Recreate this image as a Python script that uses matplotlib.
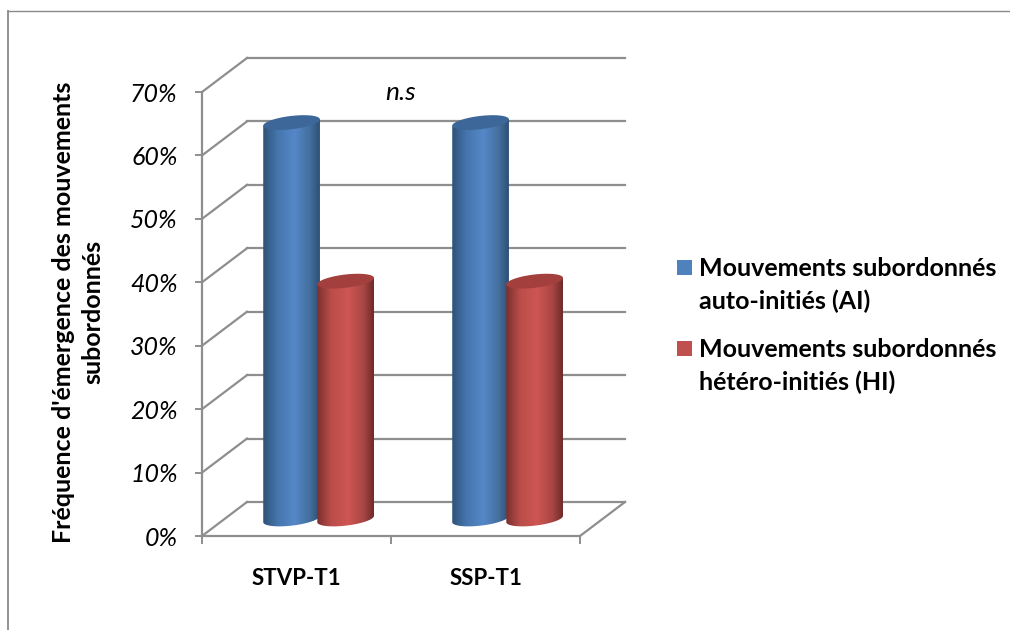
import numpy as np
import matplotlib
matplotlib.use("Agg")
import matplotlib.pyplot as plt
from matplotlib.colors import LinearSegmentedColormap
from matplotlib.lines import Line2D
from matplotlib.patches import Polygon, Rectangle

categories = ["STVP-T1", "SSP-T1"]
series_names = ["Mouvements subordonnés\nauto-initiés (AI)", "Mouvements subordonnés\nhétéro-initiés (HI)"]
auto_inities = [62.5, 62.5]
hetero_inities = [37.5, 37.5]
y_ticks = [0, 10, 20, 30, 40, 50, 60, 70]
y_label = "Fréquence d'émergence des mouvements\nsubordonnés"
note = "n.s"

plt.rcParams["font.family"] = ["Lato", "DejaVu Sans"]

GRID = "#8e8e8e"
# depth of the fake 3d box, in data units
DEPTH_X = 45 / 189
DEPTH_Y = 34 / 6.34
BAR_W = 0.30

blue_cmap = LinearSegmentedColormap.from_list("blue3d", [(0, "#2f5378"), (0.25, "#4575ad"), (0.55, "#5588c9"), (0.82, "#44709f"), (1, "#2f4f75")])
red_cmap = LinearSegmentedColormap.from_list("red3d", [(0, "#7c302e"), (0.25, "#ba4d4a"), (0.55, "#cf5653"), (0.82, "#a84644"), (1, "#6e2b29")])


def cylinder(ax, center, value, cmap, top_color):
    # body and lid are built around a slightly tilted ellipse
    a = BAR_W / 2
    b = 1.05
    tilt = 0.5
    base = DEPTH_Y / 2
    top = base + value
    t = np.linspace(0, np.pi, 60)
    low_x = center - a * np.cos(t)
    low_y = base - b * np.sin(t) - tilt * np.cos(t)
    xs = np.concatenate([[center - a], low_x, [center + a]])
    ys = np.concatenate([[top - tilt], low_y, [top + tilt]])
    body = Polygon(np.column_stack([xs, ys]), closed=True, transform=ax.transData, fc="none", ec="none")
    ax.add_patch(body)
    grad = np.linspace(0, 1, 200).reshape(1, -1)
    im = ax.imshow(grad, cmap=cmap, aspect="auto", origin="lower", zorder=3,
                   extent=[center - a, center + a, base - 2, top + 2])
    im.set_clip_path(body)
    t2 = np.linspace(0, 2 * np.pi, 120)
    ax.add_patch(Polygon(np.column_stack([center + a * np.cos(t2), top + b * np.sin(t2) + tilt * np.cos(t2)]),
                         closed=True, fc=top_color, ec="none", zorder=3))


fig = plt.figure(figsize=(10.1, 6.3), dpi=100)
ax = fig.add_axes([202 / 1010, (630 - 536) / 630, 378 / 1010, 444 / 630])

# walls and floor
for v in y_ticks:
    ax.plot([DEPTH_X, 2 + DEPTH_X], [v + DEPTH_Y, v + DEPTH_Y], color=GRID, lw=1.6, clip_on=False, zorder=1)
    ax.plot([0, DEPTH_X], [v, v + DEPTH_Y], color=GRID, lw=1.6, clip_on=False, zorder=1)
ax.plot([2, 2 + DEPTH_X], [0, DEPTH_Y], color=GRID, lw=1.6, clip_on=False, zorder=1)

for i in range(len(categories)):
    cylinder(ax, i + 0.474, auto_inities[i], blue_cmap, "#3c6798")
    cylinder(ax, i + 0.760, hetero_inities[i], red_cmap, "#a3403d")

ax.set_xlim(0, 2)
ax.set_ylim(0, 70)
ax.patch.set_alpha(0)
for s in ["top", "right"]:
    ax.spines[s].set_visible(False)
for s in ["left", "bottom"]:
    ax.spines[s].set_color(GRID)
    ax.spines[s].set_linewidth(1.6)

ax.set_yticks(y_ticks)
ax.set_yticklabels([f"{v}%" for v in y_ticks], fontsize=18, style="italic", color="#000000")
ax.tick_params(axis="y", length=5, width=1.4, color=GRID, pad=12.5)
ax.set_xticks([0, 1, 2])
ax.set_xticklabels([])
ax.tick_params(axis="x", which="major", length=6, width=1.4, color=GRID)
ax.set_xticks([0.5, 1.5], minor=True)
ax.set_xticklabels(categories, minor=True, fontsize=16, fontweight="bold", color="#000000")
ax.tick_params(axis="x", which="minor", length=0, pad=23)

ax.text(1.048, 69.9, note, fontsize=19, style="italic", ha="center", va="center", color="#000000", zorder=4)

fig.text(78 / 1010, 1 - 312 / 630, y_label, rotation=90, ha="center", va="center", fontsize=18,
         fontweight="bold", color="#000000", linespacing=1.35)

# legend drawn by hand so the swatch sits on the first line
for (y, name, col) in [(267, series_names[0], "#4f81bd"), (348, series_names[1], "#c0504d")]:
    fig.add_artist(Rectangle((677 / 1010, 1 - (y + 8) / 630), 15 / 1010, 15 / 630, transform=fig.transFigure,
                             fc=col, ec="none"))
    fig.text(699 / 1010, 1 - (y - 10) / 630, name, fontsize=18, fontweight="bold", ha="left", va="top",
             color="#000000", linespacing=1.5)

# outer frame, only left and top are visible
fig.add_artist(Line2D([7.5 / 1010, 7.5 / 1010], [0, 1 - 10.5 / 630], color="#8a8a8a", lw=1.3, transform=fig.transFigure))
fig.add_artist(Line2D([7.5 / 1010, 1], [1 - 10.5 / 630, 1 - 10.5 / 630], color="#8a8a8a", lw=1.0, transform=fig.transFigure))

fig.savefig("out.png", dpi=100)
